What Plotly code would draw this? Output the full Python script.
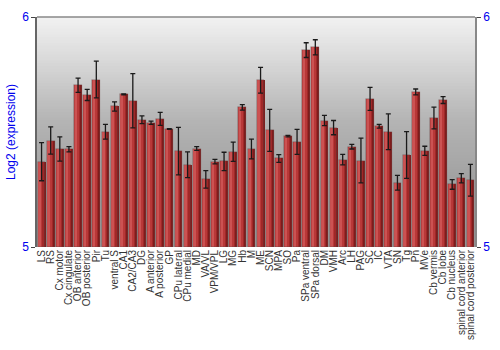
import plotly.graph_objects as go

categories = ["LS", "RS", "Cx motor", "Cx cingulate", "OB anterior", "OB posterior", "Pir", "Tu",
              "ventral S", "CA1", "CA2/CA3", "DG", "A anterior", "A posterior", "GP", "CPu lateral",
              "CPu medial", "MD", "VA/VL", "VPM/VPL", "LG", "MG", "Hb", "M", "ME", "SCN", "MPA", "SO",
              "Pa", "SPa ventral", "SPa dorsal", "DM", "VMH", "Arc", "LH", "PAG", "SC", "IC", "VTA",
              "SN", "Tg", "Pn", "MVe", "Cb vermis", "Cb lobe", "Cb nucleus", "spinal cord anterior",
              "spinal cord posterior"]

values = [5.371, 5.463, 5.426, 5.425, 5.703, 5.661, 5.728, 5.501,
          5.611, 5.664, 5.636, 5.553, 5.540, 5.557, 5.513, 5.417,
          5.358, 5.428, 5.294, 5.371, 5.372, 5.414, 5.607, 5.426, 5.725, 5.507, 5.385, 5.482,
          5.457, 5.856, 5.868, 5.550, 5.519, 5.380, 5.436, 5.376, 5.644, 5.525, 5.501,
          5.279, 5.400, 5.674, 5.418, 5.561, 5.639, 5.272, 5.299,
          5.290]

errors = [0.083, 0.059, 0.053, 0.011, 0.031, 0.024, 0.080, 0.032,
          0.020, 0.002, 0.118, 0.017, 0.007, 0.028, 0.002, 0.103,
          0.056, 0.008, 0.038, 0.010, 0.040, 0.042, 0.012, 0.043, 0.056, 0.091, 0.017, 0.003,
          0.054, 0.032, 0.033, 0.022, 0.031, 0.023, 0.010, 0.097, 0.050, 0.008, 0.078,
          0.032, 0.102, 0.013, 0.020, 0.047, 0.015, 0.021, 0.020,
          0.069]

y_range = [5, 6]
y_ticks = [5, 6]

BW = 0.84
# horizontal gradient strips within each bar: (start fraction, colour); each runs to the right edge
strips = [
    (0.00, "#bd4242"),
    (0.08, "#cc5252"),
    (0.38, "#b83838"),
    (0.62, "#a02828"),
    (0.82, "#7e1c1c"),
]

fig = go.Figure()
n = len(categories)
for a, col in strips:
    fig.add_trace(go.Bar(
        x=categories, y=[v - y_range[0] for v in values], base=y_range[0],
        width=[BW * (1 - a)] * n, offset=-BW / 2 + BW * a,
        marker=dict(color=col, line=dict(width=0)),
        hoverinfo="skip", showlegend=False,
    ))
# thin outline
fig.add_trace(go.Bar(
    x=categories, y=[v - y_range[0] for v in values], base=y_range[0],
    width=[BW] * n, offset=-BW / 2,
    marker=dict(color="rgba(0,0,0,0)", line=dict(width=0.6, color="rgba(110,70,70,0.7)")),
    hoverinfo="skip", showlegend=False,
))
# error bars
fig.add_trace(go.Scatter(
    x=categories, y=values, mode="markers",
    marker=dict(size=0.1, color="rgba(0,0,0,0)"),
    error_y=dict(type="data", array=errors, visible=True, color="#1a1a1a", thickness=1.3, width=2.5),
    showlegend=False, hoverinfo="skip",
))
# dummy trace for right axis
fig.add_trace(go.Scatter(x=[categories[0]], y=[y_range[0]], yaxis="y2", mode="markers",
                         marker=dict(size=0.1, color="rgba(0,0,0,0)"), showlegend=False, hoverinfo="skip"))

# vertical gradient background (overlapping bands, no seams)
shapes = []
stops = [(0.0, 242), (0.2, 215), (0.45, 180), (0.7, 162), (1.0, 152)]
N = 80
for k in range(N):
    t = (k + 0.5) / N  # from top
    for j in range(len(stops) - 1):
        if stops[j][0] <= t <= stops[j + 1][0]:
            f = (t - stops[j][0]) / (stops[j + 1][0] - stops[j][0])
            g = stops[j][1] + f * (stops[j + 1][1] - stops[j][1])
            break
    g = int(round(g))
    shapes.append(dict(type="rect", xref="paper", yref="paper", x0=0, x1=1,
                       y0=0, y1=1 - k / N,
                       fillcolor=f"rgb({g},{g},{g})", line=dict(width=0), layer="below"))
shapes.append(dict(type="line", xref="paper", yref="paper", x0=0, x1=1, y0=1, y1=1,
                   line=dict(color="#888888", width=1.5)))

fig.update_layout(
    width=500, height=350,
    margin=dict(l=28, r=14, t=10, b=100),
    paper_bgcolor="white", plot_bgcolor="rgba(0,0,0,0)",
    barmode="overlay", bargap=0,
    font=dict(family="Liberation Sans, Arial, sans-serif", size=10, color="#333333"),
    shapes=shapes,
    xaxis=dict(type="category", tickangle=-90, tickfont=dict(size=10, color="#333333"),
               tickmode="array", tickvals=categories, ticktext=categories,
               showgrid=False, ticks="", showline=False, zeroline=False,
               range=[-0.5, n - 0.5]),
    yaxis=dict(range=y_range, tickvals=y_ticks, ticktext=[str(t) for t in y_ticks],
               tickfont=dict(size=12, color="#0000ee"), showgrid=False, zeroline=False,
               ticks="outside", ticklen=4, tickcolor="#444444", showline=True,
               linecolor="#666666", linewidth=1.5,
               title=dict(text="Log2 (expression)", font=dict(size=12, color="#0000ee"), standoff=4)),
    yaxis2=dict(range=y_range, tickvals=y_ticks, ticktext=[str(t) for t in y_ticks],
                overlaying="y", side="right", tickfont=dict(size=12, color="#0000ee"),
                showgrid=False, zeroline=False, ticks="outside", ticklen=4, tickcolor="#444444",
                showline=True, linecolor="#888888", linewidth=1.5),
)

fig.write_html("out.html")
